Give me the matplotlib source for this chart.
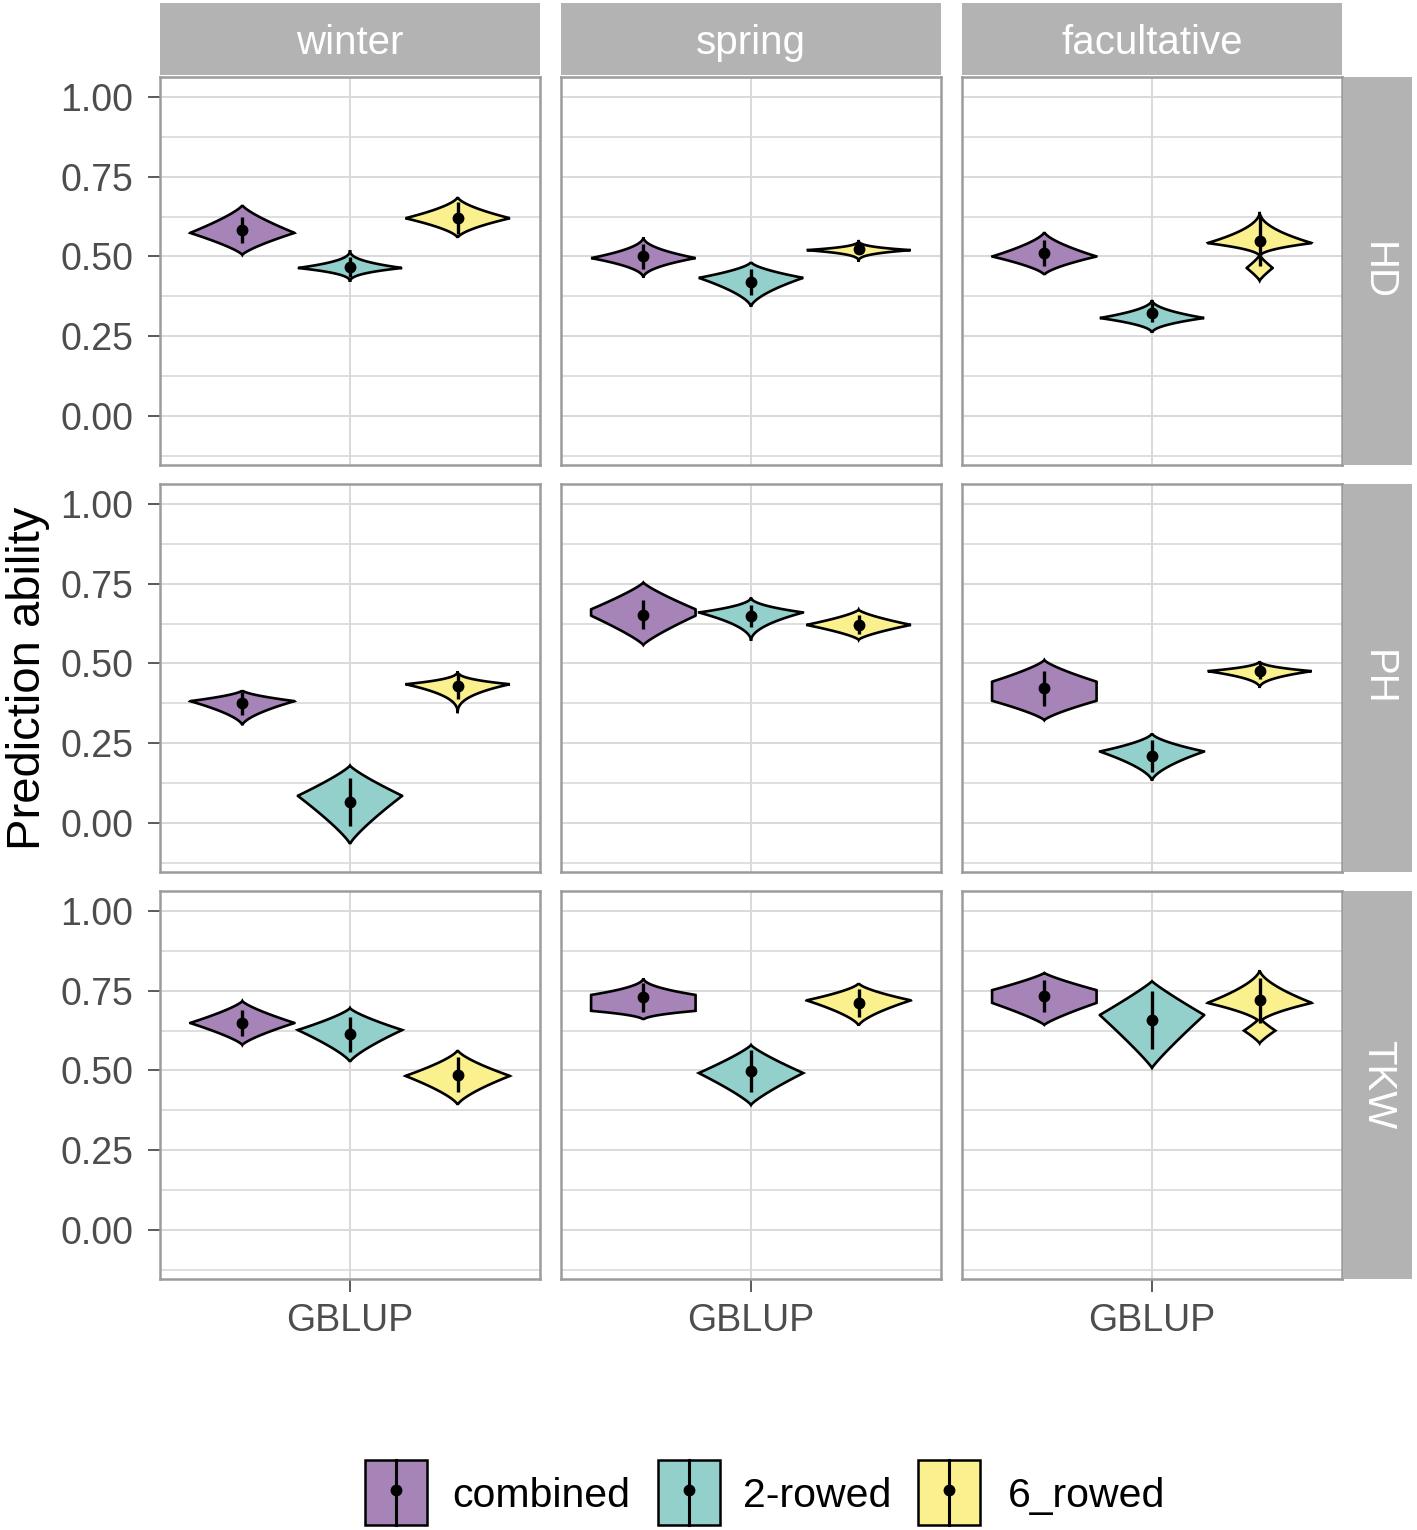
import numpy as np
import matplotlib
matplotlib.use("Agg")
import matplotlib.pyplot as plt
from matplotlib.patches import Rectangle

plt.rcParams["font.family"] = ["Liberation Sans", "DejaVu Sans"]

# facets
types = ["winter", "spring", "facultative"]
traits = ["HD", "PH", "TKW"]
groups = ["combined", "2-rowed", "6_rowed"]
colors = ["#A784B8", "#93D0CB", "#FAF08E"]

# order of the 9 values: HD winter/spring/facultative, PH ..., TKW ...
combined_mean = [0.583, 0.500, 0.511, 0.375, 0.653, 0.423, 0.649, 0.730, 0.733]
combined_lo = [0.505, 0.433, 0.442, 0.306, 0.558, 0.322, 0.580, 0.658, 0.643]
combined_hi = [0.661, 0.561, 0.577, 0.416, 0.754, 0.511, 0.718, 0.790, 0.806]
combined_mode = [0.574, 0.495, 0.500, 0.382, 0.660, 0.413, 0.649, 0.712, 0.732]
combined_sd = [0.040, 0.040, 0.040, 0.035, 0.045, 0.055, 0.040, 0.045, 0.050]

tworow_mean = [0.467, 0.420, 0.323, 0.066, 0.650, 0.211, 0.614, 0.498, 0.658]
tworow_lo = [0.420, 0.342, 0.260, -0.066, 0.571, 0.132, 0.527, 0.392, 0.508]
tworow_hi = [0.520, 0.483, 0.364, 0.180, 0.707, 0.281, 0.696, 0.580, 0.780]
tworow_mode = [0.464, 0.433, 0.307, 0.085, 0.660, 0.224, 0.627, 0.492, 0.674]
tworow_sd = [0.030, 0.040, 0.030, 0.075, 0.035, 0.050, 0.055, 0.065, 0.090]

sixrow_mean = [0.620, 0.523, 0.549, 0.430, 0.621, 0.476, 0.486, 0.712, 0.720]
sixrow_lo = [0.558, 0.483, 0.500, 0.344, 0.574, 0.423, 0.392, 0.640, 0.650]
sixrow_hi = [0.687, 0.552, 0.640, 0.476, 0.669, 0.508, 0.564, 0.774, 0.815]
sixrow_mode = [0.620, 0.520, 0.542, 0.435, 0.621, 0.476, 0.483, 0.720, 0.712]
sixrow_sd = [0.050, 0.015, 0.080, 0.040, 0.030, 0.025, 0.055, 0.045, 0.070]

# small second modes of the 6_rowed violins (centre, relative width)
sixrow_lobe = {2: (0.464, 0.25), 8: (0.625, 0.30)}

# violin shape (how concave the sides are, flat top half-height)
combined_p = [1.3, 2.0, 1.5, 1.6, 1.2, 1.3, 1.3, 2.0, 1.2]
tworow_p = [2.5, 1.6, 2.0, 1.2, 2.0, 1.6, 1.3, 1.2, 1.1]
sixrow_p = [1.6, 3.0, 2.0, 2.5, 1.4, 2.2, 1.4, 1.5, 1.6]
combined_flat = [0.0, 0.0, 0.0, 0.0, 0.01, 0.03, 0.0, 0.025, 0.02]
tworow_flat = [0.0] * 9
sixrow_flat = [0.0] * 9

series = [
    (combined_mean, combined_lo, combined_hi, combined_mode, combined_sd, combined_p, combined_flat, {}),
    (tworow_mean, tworow_lo, tworow_hi, tworow_mode, tworow_sd, tworow_p, tworow_flat, {}),
    (sixrow_mean, sixrow_lo, sixrow_hi, sixrow_mode, sixrow_sd, sixrow_p, sixrow_flat, sixrow_lobe),
]

W, H = 1417, 1530
fig = plt.figure(figsize=(W / 100, H / 100), dpi=100)

col_x = [160, 561, 962]
panel_w = 380
row_y = [77, 484, 891]
panel_h = 388
grid_col = "#D9D9D9"
border_col = "#9C9C9C"
strip_col = "#B3B3B3"
text_grey = "#4D4D4D"


def px_axes(x, y, w, h):
    return fig.add_axes([x / W, 1 - (y + h) / H, w / W, h / H])


def violin(ax, xc, lo, hi, mode, p, flat, half, fc, lobe=None):
    ys = np.linspace(lo, hi, 300)
    top = min(mode + flat, hi - 1e-3)
    bot = max(mode - flat, lo + 1e-3)
    w = np.ones_like(ys)
    up = ys > top
    w[up] = (1 - (ys[up] - top) / (hi - top)) ** p
    dn = ys < bot
    w[dn] = (1 - (bot - ys[dn]) / (bot - lo)) ** p
    if lobe is not None:
        lc, lw_rel = lobe
        lh = 0.04
        ys2 = np.linspace(min(lo, lc - lh), hi, 300)
        w_main = np.interp(ys2, ys, w, left=0, right=0)
        w_lobe = lw_rel * np.clip(1 - np.abs(ys2 - lc) / lh, 0, None) ** 1.2
        ys, w = ys2, np.maximum(w_main, w_lobe)
    xs = np.concatenate([xc - half * w, (xc + half * w)[::-1]])
    yy = np.concatenate([ys, ys[::-1]])
    ax.fill(xs, yy, facecolor=fc, edgecolor="black", lw=1.9, zorder=3)


offsets = [-0.34, 0.0, 0.34]
half_w = 0.165

for r, trait in enumerate(traits):
    for c, vtype in enumerate(types):
        k = r * 3 + c
        ax = px_axes(col_x[c], row_y[r], panel_w, panel_h)
        ax.set_xlim(0.4, 1.6)
        ax.set_ylim(-0.154, 1.063)
        ax.set_yticks([0, 0.25, 0.5, 0.75, 1.0])
        ax.set_yticks(np.arange(-0.125, 1.0, 0.25), minor=True)
        ax.set_xticks([1])
        ax.grid(True, which="major", color=grid_col, lw=1.4, zorder=0)
        ax.grid(True, which="minor", axis="y", color=grid_col, lw=1.2, zorder=0)
        ax.set_axisbelow(True)
        for s in ax.spines.values():
            s.set_color(border_col)
            s.set_linewidth(1.8)
        ax.tick_params(which="minor", length=0)
        ax.tick_params(which="major", color=text_grey, length=9, width=1.3,
                       labelsize=27, labelcolor=text_grey, pad=10)
        if c == 0:
            ax.set_yticklabels(["0.00", "0.25", "0.50", "0.75", "1.00"])
        else:
            ax.tick_params(axis="y", length=0, labelleft=False)
        if r == 2:
            ax.set_xticklabels(["GBLUP"])
            ax.tick_params(axis="x", pad=8)
        else:
            ax.tick_params(axis="x", length=0, labelbottom=False)

        for g, (mean, lo, hi, mode, sd, pp, fl, lobes) in enumerate(series):
            xc = 1 + offsets[g]
            violin(ax, xc, lo[k], hi[k], mode[k], pp[k], fl[k], half_w,
                   colors[g], lobes.get(k))
            ax.plot([xc, xc], [mean[k] - sd[k], mean[k] + sd[k]], color="black",
                    lw=2.4, zorder=4, solid_capstyle="butt")
            ax.plot(xc, mean[k], "o", color="black", ms=7.5, zorder=5)

# top strips
for c, vtype in enumerate(types):
    sax = px_axes(col_x[c], 3, panel_w, 72)
    sax.set_facecolor(strip_col)
    sax.set_xticks([])
    sax.set_yticks([])
    for s in sax.spines.values():
        s.set_visible(False)
    sax.text(0.5, 0.44, vtype, color="white", fontsize=29, ha="center", va="center",
             transform=sax.transAxes)

# right strips
for r, trait in enumerate(traits):
    sax = px_axes(1344, row_y[r], 68, panel_h)
    sax.set_facecolor(strip_col)
    sax.set_xticks([])
    sax.set_yticks([])
    for s in sax.spines.values():
        s.set_visible(False)
    sax.text(0.5, 0.5, trait, color="white", fontsize=29, ha="center", va="center",
             rotation=-90, transform=sax.transAxes)

fig.text(28 / W, 1 - 678 / H, "Prediction ability", rotation=90, fontsize=34,
         ha="center", va="center", color="black")

# legend
lax = fig.add_axes([0, 0, 1, 1], zorder=-1)
lax.set_xlim(0, W)
lax.set_ylim(H, 0)
lax.axis("off")
key_x = [365, 658, 918]
text_x = [452, 743, 1008]
for g, name in enumerate(groups):
    lax.add_patch(Rectangle((key_x[g], 1460), 62, 65, facecolor=colors[g],
                            edgecolor="black", lw=1.8))
    cx = key_x[g] + 31
    lax.plot([cx, cx], [1460, 1525], color="black", lw=2.2)
    lax.plot(cx, 1490, "o", color="black", ms=7.5)
    lax.text(text_x[g], 1496, name, fontsize=29.5, ha="left", va="center")

fig.savefig("out.png", dpi=100)
